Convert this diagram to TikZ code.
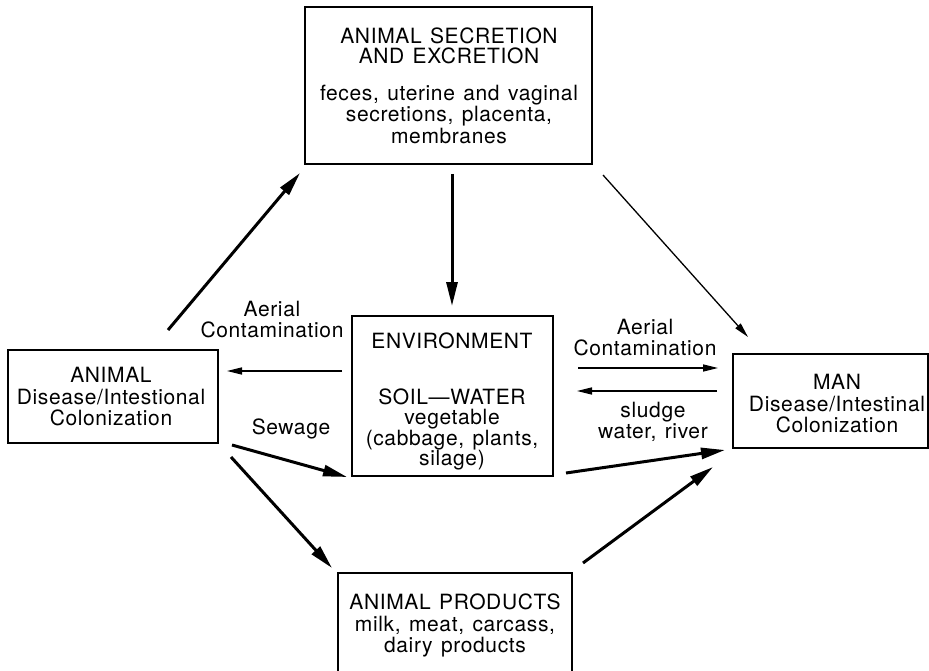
\documentclass[tikz,border=0pt]{standalone}
\usepackage{fontspec}
\setmainfont{TeX Gyre Heros}[WordSpace=1.3, LetterSpace=3]
\usetikzlibrary{arrows.meta}

\tikzset{
  box/.style={draw, line width=2pt, rectangle, inner sep=0pt},
  % base anchor sits on the baseline of the last line
  txt/.style={anchor=base, align=center, inner sep=0pt,
              font=\fontsize{21}{21.5}\selectfont},
  thinarrow/.style={line width=1.5pt, -{Triangle[length=15pt,width=7pt]}},
  thickarrow/.style={line width=3pt, -{Triangle[length=24pt,width=11pt]}},
}

\begin{document}
\begin{tikzpicture}[x=1pt,y=-1pt]
  \useasboundingbox (0,0) rectangle (929,671);

  % boxes
  \node[box, minimum width=287pt, minimum height=157pt] (sec)  at (448.5,85.5) {};
  \node[box, minimum width=210pt, minimum height=93pt]  (ani)  at (113,396.5) {};
  \node[box, minimum width=201pt, minimum height=160pt] (env)  at (452.5,396) {};
  \node[box, minimum width=195pt, minimum height=94pt]  (man)  at (830.5,401) {};
  \node[box, minimum width=234pt, minimum height=103pt] (prod) at (455,624.5) {};

  % box texts
  \node[txt] (sectxt) at (449,143.5)
    {ANIMAL SECRETION\\[-1.5pt]AND EXCRETION\\[15pt]feces, uterine and vaginal\\secretions, placenta,\\membranes};
  \node[txt] (envtxt) at (452,465.5)
    {ENVIRONMENT\\[34pt]SOIL---WATER\\[-1pt]vegetable\\[-1pt](cabbage, plants,\\[-1pt]silage)};
  \node[txt] (anitxt) at (111,425.5)
    {ANIMAL\\Disease/Intestional\\Colonization};
  \node[txt] (mantxt) at (837,432.5)
    {MAN\\Disease/Intestinal\\Colonization};
  \node[txt] (prodtxt) at (455,652.5)
    {ANIMAL PRODUCTS\\milk, meat, carcass,\\dairy products};

  % connector labels
  \node[txt] (aerl) at (272,337.5) {Aerial\\Contamination};
  \node[txt] (aerr) at (645,355.5) {Aerial\\Contamination};
  \node[txt] (sew)  at (291,434.5) {Sewage};
  \node[txt] (slu)  at (653,438.5) {sludge\\water, river};

  % connector end points
  \coordinate (a1) at (168,330);  \coordinate (a2) at (300,173);
  \coordinate (b1) at (452,174);  \coordinate (b2) at (452,306);
  \coordinate (c1) at (603,175);  \coordinate (c2) at (748,337);
  \coordinate (d1) at (342,371);  \coordinate (d2) at (227,371);
  \coordinate (e1) at (578,368);  \coordinate (e2) at (718,368);
  \coordinate (f1) at (717,391);  \coordinate (f2) at (577,391);
  \coordinate (g1) at (232,445);  \coordinate (g2) at (347,477);
  \coordinate (h1) at (231,457);  \coordinate (h2) at (332,568);
  \coordinate (i1) at (566,473);  \coordinate (i2) at (725,450);
  \coordinate (j1) at (583,563);  \coordinate (j2) at (713,467);

  % connectors
  \draw[thickarrow] (a1) -- (a2);
  \draw[thickarrow] (b1) -- (b2);
  \draw[thinarrow, line width=1.3pt] (c1) -- (c2);
  \draw[thinarrow] (d1) -- (d2);
  \draw[thinarrow] (e1) -- (e2);
  \draw[thinarrow] (f1) -- (f2);
  \draw[thickarrow] (g1) -- (g2);
  \draw[thickarrow] (h1) -- (h2);
  \draw[thickarrow] (i1) -- (i2);
  \draw[thickarrow] (j1) -- (j2);
\end{tikzpicture}
\end{document}
